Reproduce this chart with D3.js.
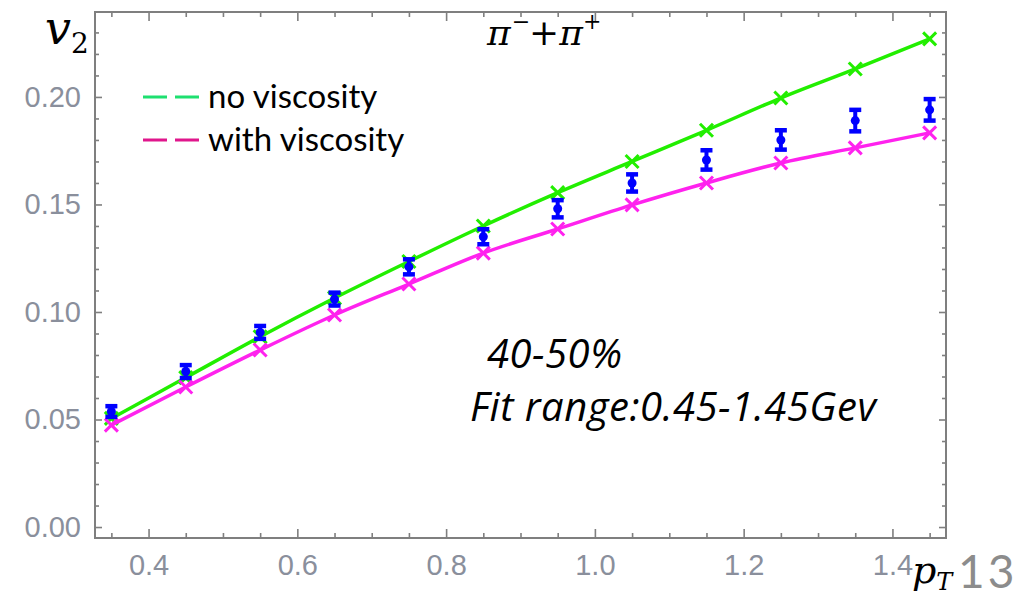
<!DOCTYPE html>
<html>
<head>
<meta charset="utf-8">
<script src="https://cdn.jsdelivr.net/npm/d3@7"></script>
<style>
  html, body { margin: 0; padding: 0; background: #fff; }
  svg { display: block; }
</style>
</head>
<body>
<svg id="chart" width="1030" height="597"></svg>
<script>
// ---- data ----
const pT = [0.35, 0.45, 0.55, 0.65, 0.75, 0.85, 0.95, 1.05, 1.15, 1.25, 1.35, 1.45];
const noViscosity = [0.0505, 0.0695, 0.0885, 0.1065, 0.1235, 0.1400, 0.1555, 0.1700, 0.1845, 0.1995, 0.2130, 0.2270];
const withViscosity = [0.0474, 0.0651, 0.0823, 0.0986, 0.1130, 0.1274, 0.1386, 0.1498, 0.1600, 0.1693, 0.1763, 0.1833];
const dataV2 = [0.0537, 0.0723, 0.0905, 0.1060, 0.1210, 0.1350, 0.1480, 0.1600, 0.1707, 0.1800, 0.1890, 0.1940];
const dataErr = [0.0025, 0.0030, 0.0030, 0.0030, 0.0035, 0.0035, 0.0040, 0.0040, 0.0045, 0.0045, 0.0050, 0.0050];
const xTickLabels = [0.4, 0.6, 0.8, 1.0, 1.2, 1.4];
const yTickLabels = [0.00, 0.05, 0.10, 0.15, 0.20];
const legendLabels = ["no viscosity", "with viscosity"];
const annotationLines = ["40-50%", "Fit range:0.45-1.45Gev"];

// ---- layout ----
const svg = d3.select("#chart");
const L = 95, R = 946, T = 12, B = 538;
const x = d3.scaleLinear().domain([0.328, 1.472]).range([L, R]);
const y = d3.scaleLinear().domain([-0.0051, 0.2395]).range([B, T]);

const frameColor = "#7f7f7f";
const labelColor = "#8a8f9c";
const green = "#22ee00";
const magenta = "#ff22ee";
const blue = "#0000ff";

const xMinor = d3.range(0.35, 1.47, 0.05).map(v => +v.toFixed(2)).filter(v => !xTickLabels.some(t => Math.abs(t - v) < 1e-6));
const yMinor = d3.range(0, 0.24, 0.01).map(v => +v.toFixed(2)).filter(v => !yTickLabels.some(t => Math.abs(t - v) < 1e-6));

function styleAxis(g) {
  g.select(".domain").remove();
  g.selectAll(".tick line").attr("stroke", frameColor).attr("stroke-width", 1.6);
  g.selectAll(".tick text").attr("fill", labelColor).attr("font-family", "Liberation Sans, Arial, sans-serif").attr("font-size", 29);
}

// bottom axis (labels)
svg.append("g").attr("transform", `translate(0,${B})`)
  .call(d3.axisBottom(x).tickValues(xTickLabels).tickSize(-9).tickPadding(16).tickFormat(d3.format(".1f")))
  .call(styleAxis);
svg.append("g").attr("transform", `translate(0,${B})`)
  .call(d3.axisBottom(x).tickValues(xMinor).tickSize(-5).tickFormat(""))
  .call(styleAxis);
// top axis
svg.append("g").attr("transform", `translate(0,${T})`)
  .call(d3.axisTop(x).tickValues(xTickLabels).tickSize(-9).tickFormat(""))
  .call(styleAxis);
svg.append("g").attr("transform", `translate(0,${T})`)
  .call(d3.axisTop(x).tickValues(xMinor).tickSize(-5).tickFormat(""))
  .call(styleAxis);
// left axis
svg.append("g").attr("transform", `translate(${L},0)`)
  .call(d3.axisLeft(y).tickValues(yTickLabels).tickSize(-7).tickPadding(14).tickFormat(d3.format(".2f")))
  .call(styleAxis);
svg.append("g").attr("transform", `translate(${L},0)`)
  .call(d3.axisLeft(y).tickValues(yMinor).tickSize(-4).tickFormat(""))
  .call(styleAxis);
// right axis
svg.append("g").attr("transform", `translate(${R},0)`)
  .call(d3.axisRight(y).tickValues(yTickLabels).tickSize(-7).tickFormat(""))
  .call(styleAxis);
svg.append("g").attr("transform", `translate(${R},0)`)
  .call(d3.axisRight(y).tickValues(yMinor).tickSize(-4).tickFormat(""))
  .call(styleAxis);

// frame
svg.append("rect").attr("x", L).attr("y", T).attr("width", R - L).attr("height", B - T)
  .attr("fill", "none").attr("stroke", frameColor).attr("stroke-width", 2);

// ---- series ----
const line = d3.line().curve(d3.curveMonotoneX);
function drawSeries(values, color) {
  const pts = pT.map((p, i) => [x(p), y(values[i])]);
  svg.append("path").attr("d", line(pts)).attr("fill", "none")
    .attr("stroke", color).attr("stroke-width", 3.5);
  const s = 6.5;
  svg.append("g").selectAll("path").data(pts).join("path")
    .attr("d", d => `M${d[0]-s},${d[1]-s}L${d[0]+s},${d[1]+s}M${d[0]-s},${d[1]+s}L${d[0]+s},${d[1]-s}`)
    .attr("stroke", color).attr("stroke-width", 3).attr("fill", "none");
}
drawSeries(noViscosity, green);
drawSeries(withViscosity, magenta);

// data with error bars
const eb = svg.append("g").selectAll("g").data(pT).join("g");
eb.append("line")
  .attr("x1", d => x(d)).attr("x2", d => x(d))
  .attr("y1", (d, i) => y(dataV2[i] - dataErr[i])).attr("y2", (d, i) => y(dataV2[i] + dataErr[i]))
  .attr("stroke", blue).attr("stroke-width", 4);
[-1, 1].forEach(sg => {
  eb.append("line")
    .attr("x1", d => x(d) - 6).attr("x2", d => x(d) + 6)
    .attr("y1", (d, i) => y(dataV2[i] + sg * dataErr[i])).attr("y2", (d, i) => y(dataV2[i] + sg * dataErr[i]))
    .attr("stroke", blue).attr("stroke-width", 4.5);
});
eb.append("circle").attr("cx", d => x(d)).attr("cy", (d, i) => y(dataV2[i])).attr("r", 4.5).attr("fill", blue);

// ---- legend ----
const legendColors = ["#1ee070", "#e0168c"];
const lg = svg.append("g").selectAll("g").data(legendLabels).join("g")
  .attr("transform", (d, i) => `translate(0,${97 + i * 43})`);
lg.append("line").attr("x1", 143).attr("x2", 205).attr("y1", 0).attr("y2", 0)
  .attr("stroke", (d, i) => legendColors[i]).attr("stroke-width", 3).attr("stroke-dasharray", "24,8");
lg.append("text").attr("x", 208).attr("y", 11).text(d => d)
  .attr("font-family", "Lato, Open Sans, sans-serif").attr("font-size", 33).attr("fill", "#000");

// ---- annotations ----
svg.append("g").selectAll("text").data(annotationLines).join("text")
  .attr("x", (d, i) => i === 0 ? 487 : 470)
  .attr("y", (d, i) => 368 + i * 53)
  .attr("font-family", "Open Sans, Lato, sans-serif").attr("font-style", "italic")
  .attr("font-size", 40).attr("letter-spacing", 0.5).attr("fill", "#000").text(d => d);

// title pi- + pi+
const title = svg.append("text").attr("x", 487).attr("y", 45)
  .attr("font-family", "DejaVu Serif, Liberation Serif, serif").attr("font-size", 36).attr("fill", "#000");
title.append("tspan").attr("font-style", "italic").text("π");
title.append("tspan").attr("dy", -16).attr("dx", 1).attr("font-size", 22).text("−");
title.append("tspan").attr("dy", 16).attr("dx", -1).text("+");
title.append("tspan").attr("font-style", "italic").text("π");
title.append("tspan").attr("dy", -16).attr("font-size", 22).text("+");

// axis labels
const v2 = svg.append("text").attr("x", 45).attr("y", 44)
  .attr("font-family", "DejaVu Serif, Liberation Serif, serif").attr("font-size", 46).attr("fill", "#000");
v2.append("tspan").attr("font-style", "italic").text("v");
v2.append("tspan").attr("dy", 9).attr("font-size", 28).text("2");

const ptl = svg.append("text").attr("x", 912).attr("y", 583)
  .attr("font-family", "DejaVu Serif, Liberation Serif, serif").attr("font-size", 38).attr("fill", "#000");
ptl.append("tspan").attr("font-style", "italic").text("p");
ptl.append("tspan").attr("dy", 7).attr("font-size", 24).attr("font-style", "italic").text("T");

// slide number
svg.append("text").attr("x", 958).attr("y", 588)
  .attr("font-family", "Lato, Open Sans, sans-serif").attr("font-size", 46)
  .attr("letter-spacing", 3).attr("fill", "#8c8c8c").text("13");
</script>
</body>
</html>
